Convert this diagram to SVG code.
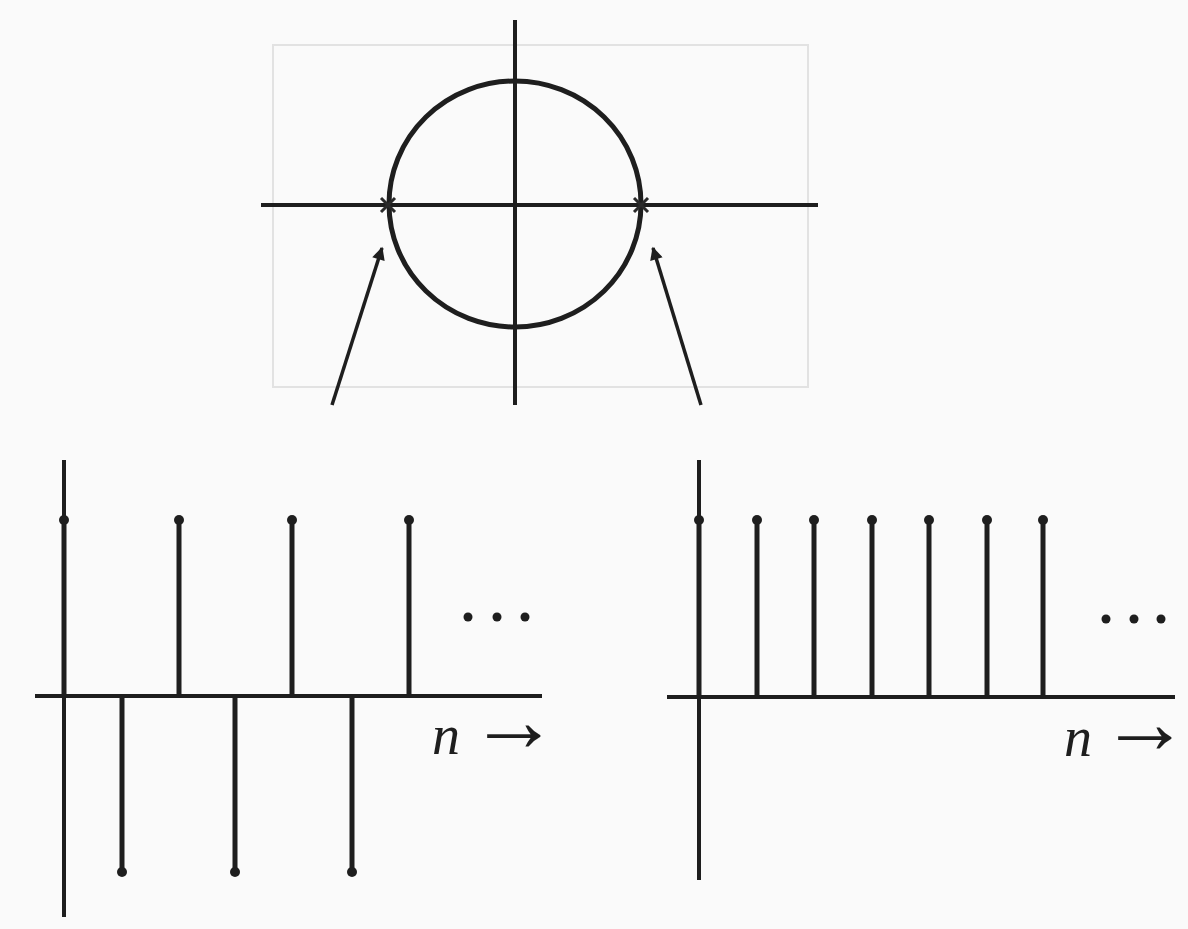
<svg xmlns="http://www.w3.org/2000/svg" width="1188" height="929" viewBox="0 0 1188 929">
<defs>
<style>
.ax{stroke:#1e1e1e;stroke-width:4;fill:none;stroke-linecap:butt}
.st{stroke:#1e1e1e;stroke-width:5;fill:none}
.tip{fill:#1e1e1e}
.faint{stroke:#e2e2e2;stroke-width:2;fill:none}
.lbl{font-family:"Liberation Serif","DejaVu Serif",serif;font-size:56px;fill:#1e1e1e}
.arr{font-family:"Liberation Serif","DejaVu Serif",serif;font-size:90px;fill:#1e1e1e}
.dot{fill:#1e1e1e}
</style>
<marker id="ah2" viewBox="0 0 10 10" refX="9" refY="5" markerWidth="18" markerHeight="13" orient="auto" markerUnits="userSpaceOnUse">
<path d="M0,0 L10,5 L0,10 z" fill="#1e1e1e"/>
</marker>
</defs>
<rect width="1188" height="929" fill="#fafafa"/>

<g id="zplane">
<rect class="faint" x="273" y="45" width="535" height="342"/>
<line class="ax" x1="515" y1="20" x2="515" y2="405"/>
<line class="ax" x1="261" y1="205" x2="818" y2="205"/>
<ellipse cx="515" cy="204" rx="126" ry="123" fill="none" stroke="#1e1e1e" stroke-width="5"/>
<g stroke="#2a2a2a" stroke-width="3">
<line x1="381" y1="198" x2="395" y2="212"/><line x1="395" y1="198" x2="381" y2="212"/>
<line x1="634" y1="198" x2="648" y2="212"/><line x1="648" y1="198" x2="634" y2="212"/>
</g>
</g>

<g id="connectors">
<line x1="332" y1="405" x2="382" y2="248" stroke="#1e1e1e" stroke-width="3.5" marker-end="url(#ah2)"/>
<line x1="701" y1="405" x2="653" y2="248" stroke="#1e1e1e" stroke-width="3.5" marker-end="url(#ah2)"/>
</g>

<g id="plot-left">
<line class="ax" x1="64" y1="460" x2="64" y2="917"/>
<line class="ax" x1="35" y1="696" x2="542" y2="696"/>
<g class="st">
<line x1="64" y1="696" x2="64" y2="520"/>
<line x1="179" y1="696" x2="179" y2="520"/>
<line x1="292" y1="696" x2="292" y2="520"/>
<line x1="409" y1="696" x2="409" y2="520"/>
<line x1="122" y1="696" x2="122" y2="872"/>
<line x1="235" y1="696" x2="235" y2="872"/>
<line x1="352" y1="696" x2="352" y2="872"/>
</g>
<g class="tip">
<circle cx="64" cy="520" r="5"/><circle cx="179" cy="520" r="5"/><circle cx="292" cy="520" r="5"/><circle cx="409" cy="520" r="5"/>
<circle cx="122" cy="872" r="5"/><circle cx="235" cy="872" r="5"/><circle cx="352" cy="872" r="5"/>
</g>
<g class="dot"><circle cx="468" cy="617" r="4.5"/><circle cx="497" cy="617" r="4.5"/><circle cx="525" cy="617" r="4.5"/></g>
<text class="lbl" x="432" y="754" font-style="italic">n</text>
<text class="arr" x="469" y="751">→</text>
</g>

<g id="plot-right">
<line class="ax" x1="699" y1="460" x2="699" y2="880"/>
<line class="ax" x1="667" y1="697" x2="1175" y2="697"/>
<g class="st">
<line x1="699" y1="697" x2="699" y2="520"/>
<line x1="757" y1="697" x2="757" y2="520"/>
<line x1="814" y1="697" x2="814" y2="520"/>
<line x1="872" y1="697" x2="872" y2="520"/>
<line x1="929" y1="697" x2="929" y2="520"/>
<line x1="987" y1="697" x2="987" y2="520"/>
<line x1="1043" y1="697" x2="1043" y2="520"/>
</g>
<g class="tip">
<circle cx="699" cy="520" r="5"/><circle cx="757" cy="520" r="5"/><circle cx="814" cy="520" r="5"/><circle cx="872" cy="520" r="5"/><circle cx="929" cy="520" r="5"/><circle cx="987" cy="520" r="5"/><circle cx="1043" cy="520" r="5"/>
</g>
<g class="dot"><circle cx="1106" cy="619" r="4.5"/><circle cx="1134" cy="619" r="4.5"/><circle cx="1161" cy="619" r="4.5"/></g>
<text class="lbl" x="1064" y="756" font-style="italic">n</text>
<text class="arr" x="1100" y="753">→</text>
</g>
</svg>
